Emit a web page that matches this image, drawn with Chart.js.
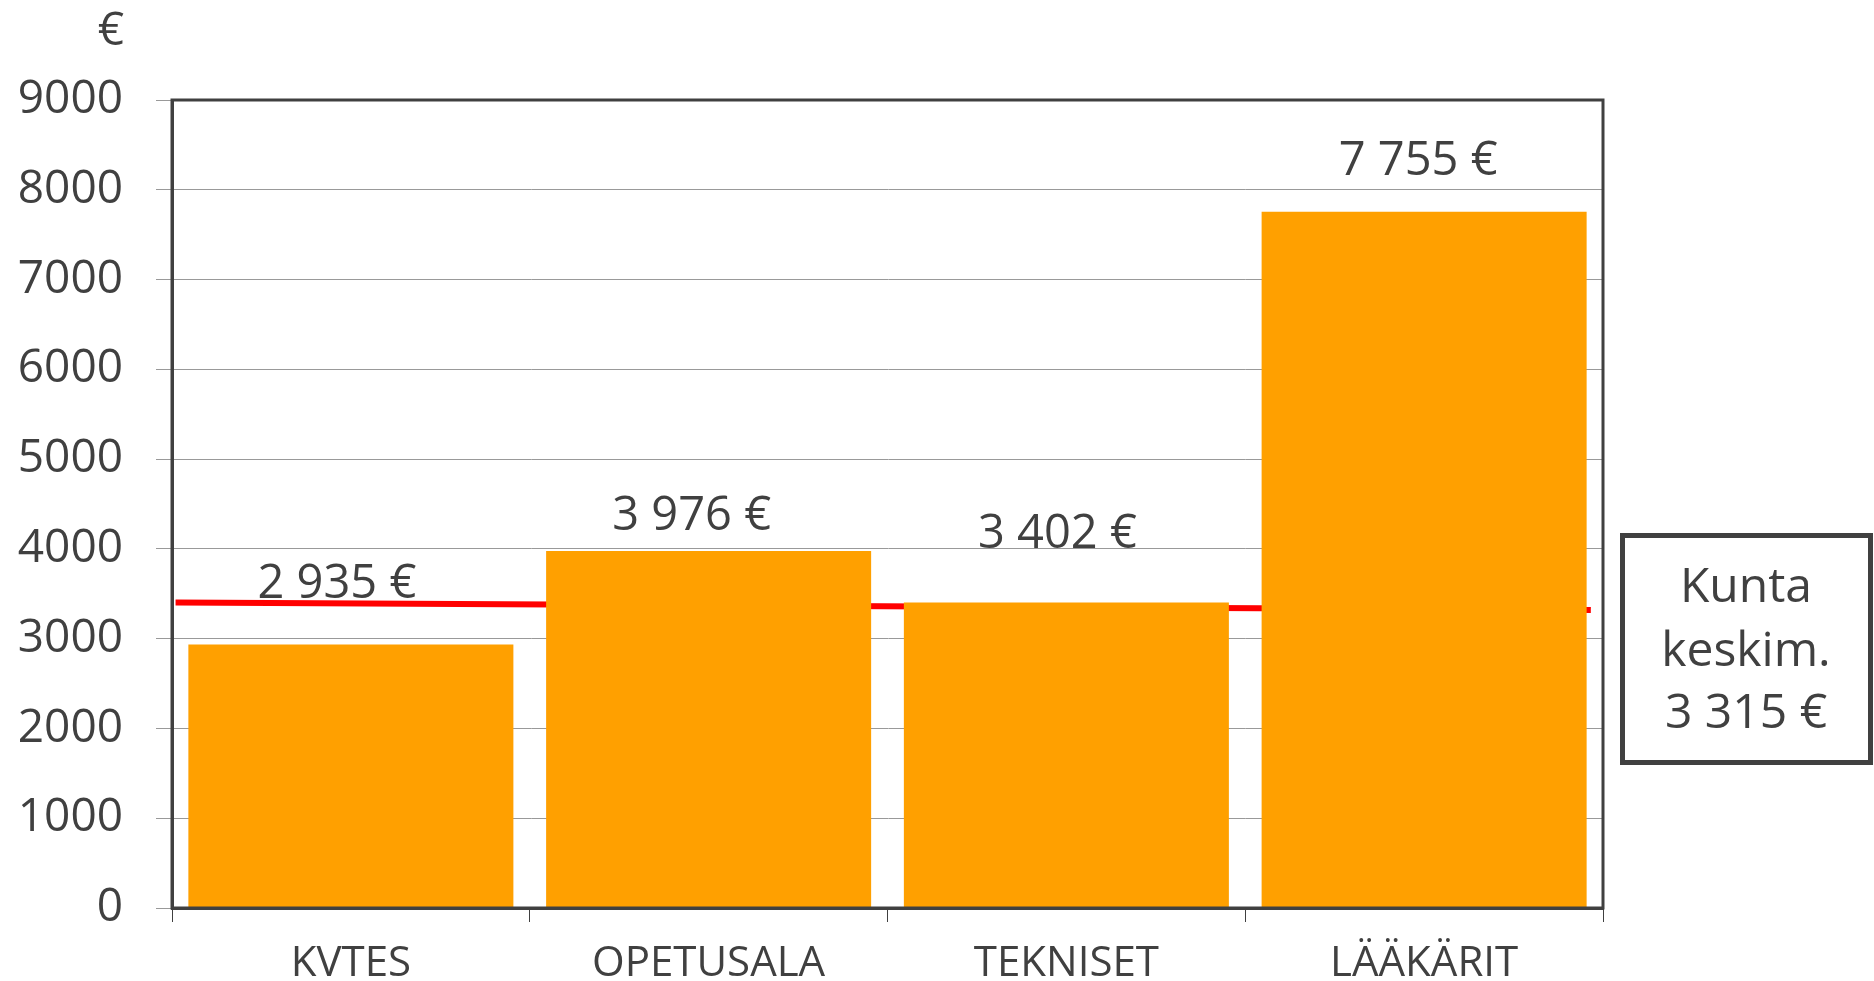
<!DOCTYPE html>
<html>
<head>
<meta charset="utf-8">
<script src="https://cdn.jsdelivr.net/npm/chart.js@4.4.1/dist/chart.umd.min.js"></script>
<style>
  html, body { margin: 0; padding: 0; background: #ffffff; }
  #wrap { width: 1874px; height: 981px; }
</style>
</head>
<body>
<div id="wrap"><canvas id="c" width="1874" height="981"></canvas></div>
<script>
// ---- data ----
const categories = ['KVTES', 'OPETUSALA', 'TEKNISET', 'LÄÄKÄRIT'];
const salaries = [2935, 3976, 3402, 7755];
const averageLineX = [-0.49, 3.466];
const averageLineY = [3404, 3318];
const averageValue = 3315;
const boxLines = ['Kunta', 'keskim.'];
const yTickMin = 0;
const yTickMax = 9000;
const yTickStep = 1000;
const unitLabel = '€';

// ---- style / placement (not data) ----
const labelLift = [47, 21, 55, 37];
const labelShift = [-14, -17, -9, -6];
const TEXT = '#404040';
const FONT = '"Open Sans", "Noto Sans", sans-serif';

function fmt(v) {
  return String(v).replace(/\B(?=(\d{3})+(?!\d))/g, ' ') + ' €';
}

const overlay = {
  id: 'overlay',
  afterDatasetsDraw(chart) {
    const ctx = chart.ctx;
    const meta = chart.getDatasetMeta(1);
    ctx.save();
    ctx.fillStyle = TEXT;
    ctx.font = '47px ' + FONT;
    ctx.textAlign = 'center';
    ctx.textBaseline = 'alphabetic';
    meta.data.forEach((bar, i) => {
      ctx.fillText(fmt(salaries[i]), bar.x + labelShift[i], bar.y - labelLift[i]);
    });
    ctx.restore();
  },
  afterDraw(chart) {
    const ctx = chart.ctx;
    const a = chart.chartArea;
    ctx.save();
    // frame
    ctx.strokeStyle = TEXT;
    ctx.lineWidth = 3;
    ctx.strokeRect(a.left, a.top, a.right - a.left, a.bottom - a.top);
    // unit label
    ctx.fillStyle = TEXT;
    ctx.font = '46px ' + FONT;
    ctx.textAlign = 'right';
    ctx.textBaseline = 'alphabetic';
    ctx.fillText(unitLabel, 124, 45);
    // average box
    ctx.lineWidth = 5;
    ctx.strokeStyle = TEXT;
    ctx.strokeRect(1622.5, 535.5, 248, 227);
    ctx.font = '48px ' + FONT;
    ctx.textAlign = 'center';
    const lines = boxLines.concat([fmt(averageValue)]);
    const baselines = [602, 666, 728];
    lines.forEach((t, i) => ctx.fillText(t, 1746, baselines[i]));
    ctx.restore();
  }
};

new Chart(document.getElementById('c'), {
  type: 'bar',
  data: {
    labels: categories,
    datasets: [
      {
        type: 'line',
        xAxisID: 'xl',
        yAxisID: 'y',
        data: averageLineX.map((x, i) => ({ x: x, y: averageLineY[i] })),
        borderColor: '#ff0000',
        borderWidth: 6,
        borderCapStyle: 'butt',
        pointRadius: 0,
        fill: false,
        order: 2
      },
      {
        type: 'bar',
        xAxisID: 'x',
        yAxisID: 'y',
        data: salaries,
        backgroundColor: '#ffa000',
        borderWidth: 0,
        grouped: false,
        categoryPercentage: 1.0,
        barPercentage: 0.9085,
        order: 1
      }
    ]
  },
  options: {
    responsive: false,
    animation: false,
    devicePixelRatio: 1,
    layout: { padding: { left: 0, top: 100, right: 271, bottom: 0 } },
    plugins: {
      legend: { display: false },
      tooltip: { enabled: false }
    },
    scales: {
      x: {
        type: 'category',
        position: 'bottom',
        offset: true,
        afterFit(s) { s.height = 73; },
        grid: {
          offset: true,
          drawOnChartArea: false,
          drawTicks: true,
          tickLength: 14,
          color: TEXT,
          lineWidth: 1
        },
        border: { display: true, color: TEXT, width: 3 },
        ticks: {
          color: TEXT,
          font: { family: FONT, size: 42 },
          padding: 17,
          maxRotation: 0,
          autoSkip: false
        }
      },
      xl: {
        type: 'linear',
        display: false,
        offset: false,
        grid: { offset: false },
        min: -0.5,
        max: 3.5
      },
      y: {
        type: 'linear',
        position: 'left',
        min: yTickMin,
        max: yTickMax,
        afterFit(s) { s.width = 172; },
        grid: {
          color: '#999999',
          lineWidth: 1,
          drawTicks: true,
          tickLength: 16,
          tickColor: '#999999'
        },
        border: { display: true, color: TEXT, width: 3 },
        ticks: {
          stepSize: yTickStep,
          color: TEXT,
          font: { family: FONT, size: 46 },
          padding: 33,
          callback: (v) => String(v)
        }
      }
    }
  },
  plugins: [overlay]
});
</script>
</body>
</html>
